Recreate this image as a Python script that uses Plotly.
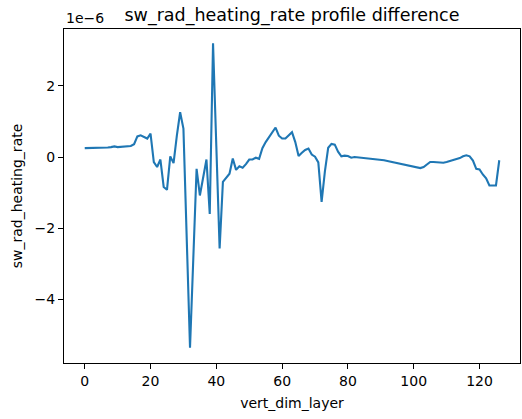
import numpy as np
import plotly.graph_objects as go

# sw_rad_heating_rate difference per vertical layer, in units of 1e-6
layer = list(range(127))
diff_e6 = [
    0.25, 0.25, 0.25, 0.25, 0.25, 0.26, 0.26, 0.27, 0.28, 0.30,
    0.28, 0.29, 0.30, 0.30, 0.31, 0.36, 0.58, 0.61, 0.56, 0.52,
    0.66, -0.14, -0.28, -0.07, -0.84, -0.92, 0.02, -0.17, 0.60, 1.26,
    0.80, -2.00, -5.36, -2.85, -0.33, -1.08, -0.55, -0.07, -1.60, 3.20,
    0.30, -2.57, -0.70, -0.60, -0.47, -0.04, -0.36, -0.26, -0.30, -0.20,
    -0.07, -0.07, -0.02, -0.05, 0.25, 0.42, 0.56, 0.70, 0.83, 0.60,
    0.52, 0.52, 0.60, 0.70, 0.42, 0.03, 0.12, 0.20, 0.24, 0.07,
    0.01, -0.15, -1.26, -0.40, 0.26, 0.37, 0.35, 0.15, 0.02, 0.04,
    0.03, -0.02, 0.00, -0.01, -0.01, -0.01, -0.02, -0.03, -0.04, -0.05,
    -0.07, -0.09, -0.11, -0.13, -0.15, -0.17, -0.19, -0.21, -0.23, -0.25,
    -0.27, -0.29, -0.31, -0.28, -0.20, -0.14, -0.14, -0.15, -0.16, -0.16,
    -0.14, -0.11, -0.09, -0.07, -0.03, 0.02, 0.05, 0.02, -0.10, -0.33,
    -0.35, -0.49, -0.60, -0.80, -0.80, -0.80, -0.09,
]
x_ticks = [0, 20, 40, 60, 80, 100, 120]
y_ticks_e6 = [-4, -2, 0, 2]
y_tick_labels = ["\u22124", "\u22122", "0", "2"]

y = np.array(diff_e6) * 1e-6

font = "DejaVu Sans"
txt = dict(family=font, size=14, color="black")

fig = go.Figure()
fig.add_trace(
    go.Scatter(
        x=layer,
        y=y,
        mode="lines",
        line=dict(color="#1f77b4", width=2.1),
        showlegend=False,
        hoverinfo="skip",
    )
)

axis_style = dict(
    showgrid=False,
    zeroline=False,
    showline=True,
    mirror=True,
    linecolor="black",
    linewidth=1,
    ticks="outside",
    ticklen=5,
    tickwidth=1,
    tickcolor="black",
    automargin=False,
    tickfont=txt,
)

fig.update_xaxes(
    range=[-6.3, 132.3],
    tickvals=x_ticks,
    title=dict(text="vert_dim_layer", font=txt, standoff=10),
    **axis_style,
)
fig.update_yaxes(
    range=[-5.79e-6, 3.6e-6],
    tickvals=[v * 1e-6 for v in y_ticks_e6],
    ticktext=y_tick_labels,
    title=dict(text="sw_rad_heating_rate", font=txt, standoff=8),
    **axis_style,
)

fig.update_layout(
    width=522,
    height=419,
    margin=dict(l=64, r=2, t=29, b=56),
    paper_bgcolor="white",
    plot_bgcolor="white",
    title=dict(
        text="sw_rad_heating_rate profile difference",
        font=dict(family=font, size=17.5, color="black"),
        x=0.5,
        xref="paper",
        y=1,
        yref="paper",
        yanchor="bottom",
        pad=dict(b=8),
    ),
)

# offset text for the scaled y axis
fig.add_annotation(
    text="1e\u22126",
    x=0,
    y=1,
    xref="paper",
    yref="paper",
    xanchor="left",
    yanchor="bottom",
    yshift=1,
    showarrow=False,
    font=txt,
)

# drop the default page margin so the figure sits at the top-left corner
fig.write_html(
    "out.html",
    config={"displayModeBar": False},
    post_script="document.body.style.margin = '0';",
)
